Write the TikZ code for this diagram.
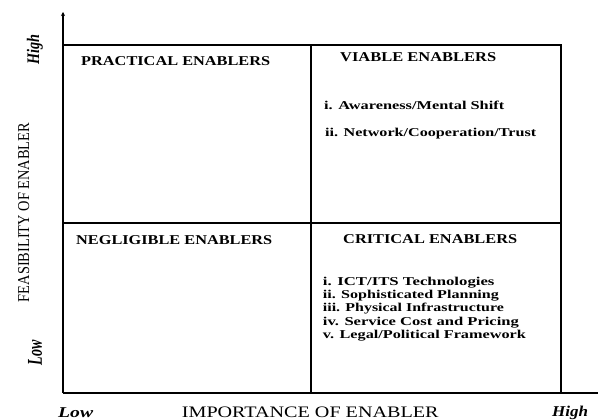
\documentclass[tikz,border=0pt]{standalone}
\usepackage{fontspec}
\setmainfont{Liberation Serif}
\usetikzlibrary{arrows.meta}
\newcommand{\wfit}[2]{\resizebox{#1}{\height}{#2}}
\begin{document}
\begin{tikzpicture}[x=1pt,y=-1pt,
  axis/.style={line width=2pt},
  frame/.style={line width=1.8pt},
  head/.style={font=\bfseries\fontsize{13.5}{15}\selectfont, inner sep=0pt, anchor=west},
  item/.style={font=\bfseries\fontsize{12}{13.5}\selectfont, inner sep=0pt, anchor=base west},
  lab/.style={font=\fontsize{16}{18}\selectfont, inner sep=0pt},
  ilab/.style={font=\itshape\bfseries\fontsize{15}{17}\selectfont, inner sep=0pt}]
\useasboundingbox (0,0) rectangle (598,420);
\coordinate (O) at (63,393);
\coordinate (Ytop) at (63,12);
\coordinate (Xend) at (598,393);
\coordinate (TL) at (63,45);
\coordinate (TM) at (311,45);
\coordinate (TR) at (561,45);
\coordinate (ML) at (63,223);
\coordinate (MR) at (561,223);
\coordinate (BM) at (311,393);
\coordinate (BR) at (561,393);
\draw[axis,-{Stealth[length=4pt,width=4pt]}] (O) -- (Ytop);
\draw[axis] (O) -- (Xend);
\draw[frame] (TL) -- (TR) -- (BR);
\draw[frame] (TM) -- (BM);
\draw[frame] (ML) -- (MR);
\node[head] (pr) at (81,61.5) {\wfit{189pt}{PRACTICAL ENABLERS}};
\node[head] (vi) at (340,57) {\wfit{156pt}{VIABLE ENABLERS}};
\node[item] (v1) at (324,109.3) {\wfit{180pt}{i. Awareness/Mental Shift}};
\node[item] (v2) at (325,136.7) {\wfit{211pt}{ii. Network/Cooperation/Trust}};
\node[head] (ne) at (76,240.5) {\wfit{196pt}{NEGLIGIBLE ENABLERS}};
\node[head] (cr) at (343,239.5) {\wfit{174pt}{CRITICAL ENABLERS}};
\node[item] (c1) at (322.7,285) {\wfit{171.6pt}{i. ICT/ITS Technologies}};
\node[item] (c2) at (322.7,298.4) {\wfit{176pt}{ii. Sophisticated Planning}};
\node[item] (c3) at (322.7,311.8) {\wfit{181pt}{iii. Physical Infrastructure}};
\node[item] (c4) at (322.7,325.2) {\wfit{196pt}{iv. Service Cost and Pricing}};
\node[item] (c5) at (322.7,338.6) {\wfit{203pt}{v. Legal/Political Framework}};
\node[lab,rotate=90] (yl) at (23.7,212.5) {\resizebox{179pt}{11pt}{FEASIBILITY OF ENABLER}};
\node[ilab,rotate=90] (yh) at (35,50) {\resizebox*{30pt}{16pt}{High}};
\node[ilab,rotate=90] (ylo) at (35,352.5) {\resizebox*{25pt}{14pt}{Low}};
\node[lab,anchor=base west] (xl) at (181.7,417.5) {\wfit{256.7pt}{IMPORTANCE OF ENABLER}};
\node[ilab,anchor=base west] (xlo) at (58,417) {\wfit{35pt}{Low}};
\node[ilab,anchor=base west] (xh) at (552,416) {\wfit{36pt}{High}};
\end{tikzpicture}
\end{document}
